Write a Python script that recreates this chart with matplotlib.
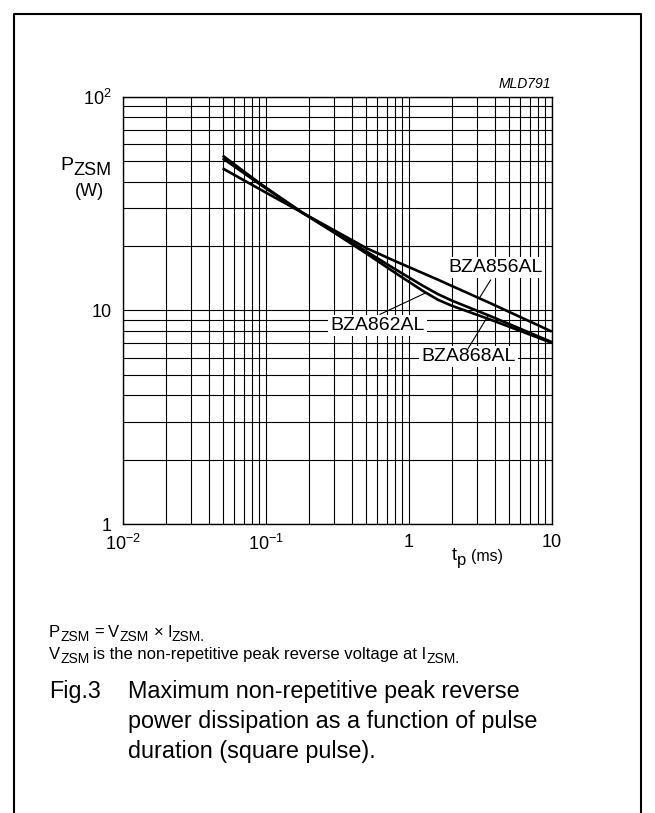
import matplotlib
matplotlib.use('Agg')
import matplotlib.pyplot as plt
from matplotlib.lines import Line2D
from matplotlib.ticker import LogLocator, FixedLocator, NullFormatter

plt.rcParams['font.family'] = ['Liberation Sans', 'DejaVu Sans']
plt.rcParams['mathtext.fontset'] = 'custom'
plt.rcParams['mathtext.rm'] = 'Liberation Sans'
plt.rcParams['mathtext.it'] = 'Liberation Sans:italic'
plt.rcParams['mathtext.default'] = 'regular'

# ---- data ----
tp_ms = [0.05, 0.0912, 0.182, 0.3, 0.508, 0.8, 1.26, 1.6, 2.0, 3.71, 10.0]
p_bza856al = [46.1, 36.8, 28.5, 23.7, 19.5, 17.0, 14.9, 13.9, 13.0, 10.8, 7.95]
p_bza862al = [52.9, 39.2, 28.5, 23.1, 18.4, 15.0, 12.3, 11.2, 10.5, 9.05, 7.04]
p_bza868al = [51.4, 38.8, 28.5, 23.3, 18.8, 15.6, 13.0, 11.9, 11.1, 9.4, 7.10]

x_ticks = [0.01, 0.1, 1, 10]
x_tick_labels = [r'$10^{-2}$', r'$10^{-1}$', '1', '10']
y_ticks = [1, 10, 100]
y_tick_labels = ['1', '10', r'$10^{2}$']

W, H = 655, 813
fig = plt.figure(figsize=(W / 100, H / 100), dpi=100)
renderer = fig.canvas.get_renderer()


def fx(px):
    return px / W


def fy(py):
    return 1 - py / H


def rich(x, y, segs):
    """Lay out text pieces left to right; segs = (text, size, dy_px, gap_px)."""
    for s, size, dy, gap in segs:
        t = fig.text(fx(x), fy(y + dy), s, fontsize=size, ha='left', va='baseline')
        bb = t.get_window_extent(renderer=renderer)
        x = bb.x1 + gap
    return x


L, R, T, B = 122.7, 551.7, 96.5, 524.0
ax = fig.add_axes([fx(L), fy(B), (R - L) / W, (B - T) / H])
ax.set_xscale('log')
ax.set_yscale('log')
ax.set_xlim(0.01, 10)
ax.set_ylim(1, 100)
ax.xaxis.set_major_locator(FixedLocator(x_ticks))
ax.yaxis.set_major_locator(FixedLocator(y_ticks))
ax.xaxis.set_minor_locator(LogLocator(base=10, subs=range(2, 10)))
ax.yaxis.set_minor_locator(LogLocator(base=10, subs=range(2, 10)))
ax.xaxis.set_minor_formatter(NullFormatter())
ax.yaxis.set_minor_formatter(NullFormatter())
ax.set_xticklabels(x_tick_labels)
ax.set_yticklabels(y_tick_labels)
ax.tick_params(which='both', length=0)
ax.tick_params(axis='x', pad=7, labelsize=13)
ax.tick_params(axis='y', pad=8, labelsize=13)
ax.grid(True, which='both', color='black', lw=0.8)
for s in ax.spines.values():
    s.set_linewidth(1.0)

for series in (p_bza856al, p_bza862al, p_bza868al):
    ax.plot(tp_ms, series, color='black', lw=1.9, solid_capstyle='butt',
            solid_joinstyle='round', zorder=3)

box = dict(fc='white', ec='none', pad=1.5)
ax.text(4.08, 15.9, 'BZA856AL', ha='center', va='center', fontsize=14, bbox=box, zorder=5)
ax.text(0.605, 8.49, 'BZA862AL', ha='center', va='center', fontsize=14, bbox=box, zorder=5)
ax.text(2.61, 6.07, 'BZA868AL', ha='center', va='center', fontsize=14, bbox=box, zorder=5)
ax.plot([3.74, 3.12], [13.85, 11.4], color='black', lw=0.8, zorder=6)
ax.plot([0.63, 1.33], [9.57, 12.1], color='black', lw=0.8, zorder=6)
ax.plot([2.61, 3.60], [6.64, 9.45], color='black', lw=0.8, zorder=6)

# axis titles
rich(60, 170, [('P', 14, 0, 0), ('ZSM', 13, 5, 0)])
fig.text(fx(89), fy(191), '(W)', ha='center', va='center', fontsize=13)
rich(452, 560, [('t', 13, 0, 0), ('p', 12, 5, 6)])
fig.text(fx(471), fy(561), '(ms)', ha='left', va='baseline', fontsize=11.5)
fig.text(fx(551), fy(88), 'MLD791', ha='right', va='baseline', fontsize=10, style='italic')

# footnotes
rich(49, 637, [('P', 12, 0, 0), ('ZSM', 10, 4, 5), ('=', 12, 0, 4), ('V', 12, 0, 0),
               ('ZSM', 10, 4, 5), ('\u00d7', 12, 0, 4), ('I', 12, 0, 0), ('ZSM.', 10, 4, 0)])
rich(49, 659, [('V', 12, 0, 0), ('ZSM', 10, 4, 4),
               ('is the non-repetitive peak reverse voltage at I', 12, 0, 0),
               ('ZSM.', 10, 4, 0)])

# caption
fig.text(fx(49), fy(698), 'Fig.3', ha='left', va='baseline', fontsize=16.8)
cap_lines = ['Maximum non-repetitive peak reverse',
             'power dissipation as a function of pulse',
             'duration (square pulse).']
for i, line in enumerate(cap_lines):
    fig.text(fx(128), fy(698 + 30 * i), line, ha='left', va='baseline', fontsize=16.8)

# outer frame (open at bottom)
frame_x = [fx(14), fx(14), fx(641), fx(641)]
frame_y = [0, fy(14), fy(14), 0]
fig.add_artist(Line2D(frame_x, frame_y, color='black', lw=1.5))

fig.savefig('out.png', dpi=100)
